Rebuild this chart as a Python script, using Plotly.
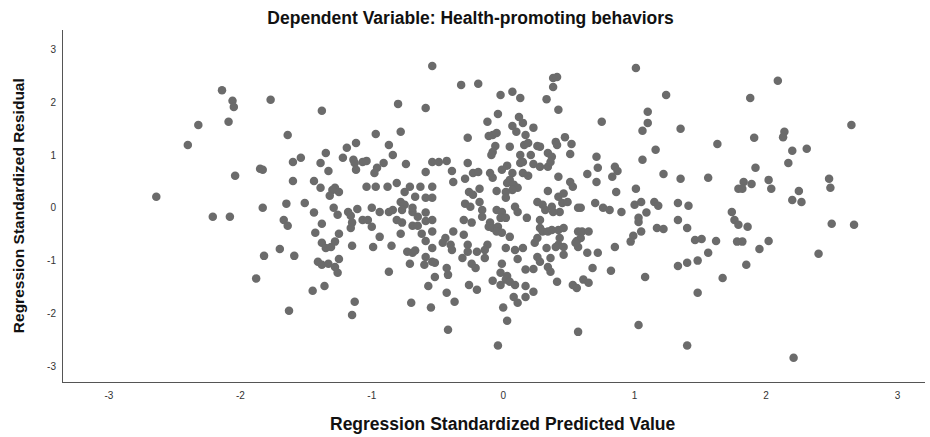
import plotly.graph_objects as go

# Regression Standardized Predicted Value (x) and Residual (y)
pred = [
 -2.14,-2.06,-2.05,-1.77,-2.32,-2.09,-2.40,-1.64,-1.85,-1.83,-2.04,-2.64,-1.83,-1.65,-2.21,-2.08,-1.67,-1.64,-1.70,-1.82,-1.88,-1.63,
 -0.54,-1.38,-0.80,-0.59,-0.97,-0.78,-1.19,-1.12,-0.87,-1.35,-0.84,-1.54,-1.60,-1.39,-1.22,-1.14,-1.13,-1.07,-1.04,-1.12,-1.33,-0.91,
 -0.96,-0.98,-0.74,-0.54,-0.59,-1.60,-1.44,-1.39,-1.28,-1.25,-1.30,-1.32,-1.04,-0.97,-0.88,-0.81,-0.75,-0.71,-0.63,-0.54,-0.67,-0.59,
 -0.54,-0.78,-0.75,-0.77,-1.51,-1.44,-1.29,-1.18,-1.11,-1.00,-0.94,-0.87,-0.84,-0.69,-0.59,-1.26,-1.16,-0.69,-1.38,-1.15,-1.16,-1.07,
 -1.03,-1.00,-0.81,-0.77,-0.69,-0.65,-0.65,-0.59,-0.54,-1.43,-1.25,-0.94,-0.78,-0.62,-0.54,-1.38,-1.35,-1.31,-1.28,-1.15,-0.99,-0.85,
 -0.59,-0.54,-1.59,-1.41,-1.38,-1.33,-1.28,-1.25,-1.26,-0.73,-0.69,-0.67,-0.71,-0.60,-0.54,-0.59,-0.87,-0.52,-1.45,-1.36,-0.57,-1.13,
 -0.70,-0.55,-1.15,
 -0.32,-0.19,0.38,0.41,0.38,-0.02,0.07,0.13,0.33,0.42,-0.04,-0.12,0.12,0.15,0.07,0.10,0.23,0.17,-0.11,-0.08,-0.05,-0.27,-0.06,-0.08,
 -0.09,0.05,0.16,0.19,0.26,0.28,0.40,0.41,0.47,0.52,0.13,0.21,0.34,0.37,0.51,-0.49,-0.43,-0.27,0.03,-0.01,0.13,0.15,0.23,0.28,0.34,
 0.36,-0.39,-0.38,-0.29,-0.23,-0.19,-0.10,-0.08,0.07,0.05,0.03,0.15,0.19,0.08,0.11,0.07,0.42,-0.26,-0.23,-0.18,-0.05,0.02,0.02,0.34,
 0.42,0.46,0.51,0.53,-0.29,-0.25,-0.18,-0.16,-0.05,-0.01,0.09,0.11,0.26,0.30,0.32,0.37,0.43,0.45,0.49,0.57,
 -0.16,-0.02,0.38,-0.30,-0.24,-0.10,-0.11,-0.08,-0.04,-0.05,-0.01,0.02,0.18,0.28,0.28,0.30,0.34,0.37,0.42,0.46,-0.38,-0.30,0.05,-0.44,
 -0.46,-0.40,-0.27,-0.12,-0.14,0.26,0.24,0.43,0.42,0.56,0.57,-0.39,-0.27,-0.20,0.02,0.09,0.15,0.33,0.40,0.46,-0.31,-0.14,0.11,0.26,
 0.36,0.46,-0.52,-0.24,-0.21,-0.01,0.28,0.34,0.36,-0.43,0.17,0.23,-0.42,-0.02,0.03,0.02,-0.26,-0.20,-0.08,-0.02,0.05,0.09,0.17,0.23,
 0.41,0.53,0.56,0.08,0.11,0.17,-0.43,-0.37,0.00,0.03,-0.42,0.57,-0.04,
 1.01,1.24,1.10,0.75,1.10,1.06,1.35,1.63,1.16,0.71,1.06,0.72,0.85,0.87,0.64,0.83,0.71,1.22,1.35,1.56,1.79,0.86,1.01,0.59,0.70,0.76,
 0.81,0.90,1.00,1.05,1.09,1.15,1.18,1.33,1.41,1.74,1.03,1.03,1.76,1.79,1.33,1.40,1.17,1.22,1.05,0.99,0.97,0.57,0.60,0.65,0.59,0.55,
 0.85,0.64,0.72,1.46,1.51,1.62,1.78,1.56,1.48,1.40,1.33,0.68,0.82,1.08,1.67,0.61,0.65,1.48,1.03,1.40,
 2.09,1.88,2.65,2.14,2.13,1.91,2.20,2.31,2.17,1.92,1.83,1.89,2.02,1.82,2.04,2.48,2.49,2.25,2.20,2.27,1.86,2.50,2.67,1.82,2.02,1.95,
 2.40,1.85,2.21,
]
resid = [
 2.23,2.03,1.91,2.05,1.57,1.63,1.19,1.38,0.74,0.72,0.61,0.21,0.00,0.08,-0.17,-0.17,-0.23,-0.34,-0.78,-0.91,-1.34,-1.95,
 2.69,1.84,1.97,1.89,1.40,1.44,1.14,1.23,1.19,1.04,1.00,0.95,0.87,0.85,0.95,0.91,0.85,0.87,0.89,0.72,0.70,0.85,
 0.76,0.66,0.83,0.87,0.68,0.51,0.51,0.38,0.38,0.30,0.34,0.23,0.40,0.40,0.40,0.47,0.30,0.40,0.40,0.40,0.21,0.19,
 0.19,0.11,0.06,-0.04,0.09,-0.09,0.00,-0.08,-0.02,0.00,-0.08,-0.08,-0.04,-0.08,-0.09,-0.13,-0.15,0.00,-0.30,-0.28,-0.38,-0.23,
 -0.23,-0.36,-0.23,-0.28,-0.34,-0.34,-0.17,-0.25,-0.23,-0.47,-0.49,-0.55,-0.49,-0.49,-0.45,-0.66,-0.76,-0.74,-0.64,-0.72,-0.74,-0.72,
 -0.63,-0.76,-0.91,-1.02,-1.08,-1.06,-1.12,-0.97,-1.23,-0.83,-0.85,-0.81,-1.06,-1.08,-1.02,-0.93,-1.21,-1.31,-1.57,-1.48,-1.48,-1.78,
 -1.80,-1.89,-2.03,
 2.33,2.35,2.46,2.48,2.29,2.14,2.20,2.08,2.06,1.86,1.78,1.63,1.72,1.61,1.55,1.44,1.52,1.38,1.36,1.38,1.42,1.33,1.17,1.06,
 1.00,1.16,1.19,1.23,1.17,1.16,1.25,1.19,1.34,1.21,1.00,1.00,1.04,0.97,1.02,0.87,0.89,0.85,0.80,0.72,0.85,0.87,0.83,0.78,0.78,
 0.87,0.70,0.49,0.55,0.66,0.68,0.66,0.57,0.66,0.53,0.47,0.66,0.61,0.44,0.38,0.34,0.59,0.30,0.25,0.36,0.32,0.30,0.19,0.32,
 0.21,0.27,0.49,0.40,0.08,0.02,0.11,-0.04,-0.04,-0.08,0.02,-0.08,0.11,0.06,-0.04,0.02,-0.08,0.09,0.11,0.00,
 -0.17,-0.19,-0.08,-0.23,-0.28,-0.28,-0.36,-0.38,-0.36,-0.45,-0.47,-0.19,-0.19,-0.23,-0.38,-0.45,-0.45,-0.42,-0.42,-0.38,-0.45,-0.51,-0.55,-0.57,
 -0.66,-0.70,-0.70,-0.70,-0.80,-0.57,-0.66,-0.57,-0.70,-0.63,-0.74,-0.80,-0.83,-0.83,-0.76,-0.80,-0.76,-0.76,-0.74,-0.74,-0.95,-0.95,-0.97,-0.93,
 -0.95,-0.89,-1.04,-1.06,-1.14,-1.06,-1.02,-1.12,-1.21,-1.14,-1.17,-1.16,-1.27,-1.23,-1.29,-1.36,-1.46,-1.55,-1.38,-1.46,-1.40,-1.46,-1.48,-1.59,
 -1.40,-1.46,-1.52,-1.69,-1.80,-1.69,-1.61,-1.78,-1.89,-2.14,-2.31,-2.35,-2.61,
 2.65,2.14,1.82,1.63,1.61,1.46,1.50,1.21,1.10,0.97,0.91,0.76,0.78,0.70,0.64,0.59,0.49,0.64,0.55,0.57,0.36,0.30,0.36,0.00,0.09,0.00,
 -0.04,-0.08,0.06,0.11,-0.09,0.11,0.04,0.09,0.04,-0.08,-0.19,-0.27,-0.23,-0.32,-0.23,-0.38,-0.38,-0.40,-0.45,-0.53,-0.64,-0.45,-0.45,-0.45,-0.57,-0.66,
 -0.74,-0.85,-0.85,-0.61,-0.59,-0.63,-0.64,-0.85,-1.00,-1.04,-1.10,-1.14,-1.19,-1.31,-1.33,-1.36,-1.42,-1.61,-2.22,-2.61,
 2.41,2.08,1.57,1.44,1.34,1.33,1.08,1.12,0.85,0.76,0.49,0.45,0.53,0.36,0.36,0.55,0.38,0.32,0.15,0.11,-0.36,-0.30,-0.32,-0.64,-0.63,-0.78,
 -0.87,-1.08,-2.84,
]

x_ticks = [-3, -2, -1, 0, 1, 2, 3]
y_ticks = [-3, -2, -1, 0, 1, 2, 3]

fig = go.Figure(go.Scatter(
    x=pred, y=resid, mode="markers",
    marker=dict(color="#6b6b6b", size=8.5, line=dict(width=0)),
    hoverinfo="x+y",
))

fig.update_layout(
    width=930, height=437,
    margin=dict(l=63, r=5, t=30, b=55),
    plot_bgcolor="white", paper_bgcolor="white",
    showlegend=False,
    font=dict(family="Liberation Sans, Arial, sans-serif", color="#222"),
    title=dict(text="<b>Dependent Variable: Health-promoting behaviors</b>",
               x=0.506, xanchor="center", y=0.958, yanchor="middle",
               font=dict(size=17.5, color="#111")),
    annotations=[
        dict(text="<b>Regression Standardized Predicted Value</b>", xref="paper", yref="paper",
             x=0.511, y=-0.119, xanchor="center", yanchor="middle", showarrow=False,
             font=dict(size=17.5, color="#111")),
        dict(text="<b>Regression Standardized Residual</b>", xref="paper", yref="paper",
             x=-0.052, y=0.50, xanchor="center", yanchor="middle", textangle=-90, showarrow=False,
             font=dict(size=15.5, color="#111")),
    ],
)
fig.update_xaxes(range=[-3.35, 3.21], tickvals=x_ticks, ticktext=[str(v) for v in x_ticks],
                 showline=True, linecolor="#555", linewidth=1, showgrid=False, zeroline=False,
                 ticks="", tickfont=dict(size=10, color="#333"), ticklabelstandoff=4)
fig.update_yaxes(range=[-3.3, 3.37], tickvals=y_ticks, ticktext=[str(v) for v in y_ticks],
                 showline=True, linecolor="#555", linewidth=1, showgrid=False, zeroline=False,
                 ticks="", tickfont=dict(size=10, color="#333"), ticklabelstandoff=4)

fig.write_html("out.html", config={"displayModeBar": False},
               post_script="document.body.style.margin='0';")
